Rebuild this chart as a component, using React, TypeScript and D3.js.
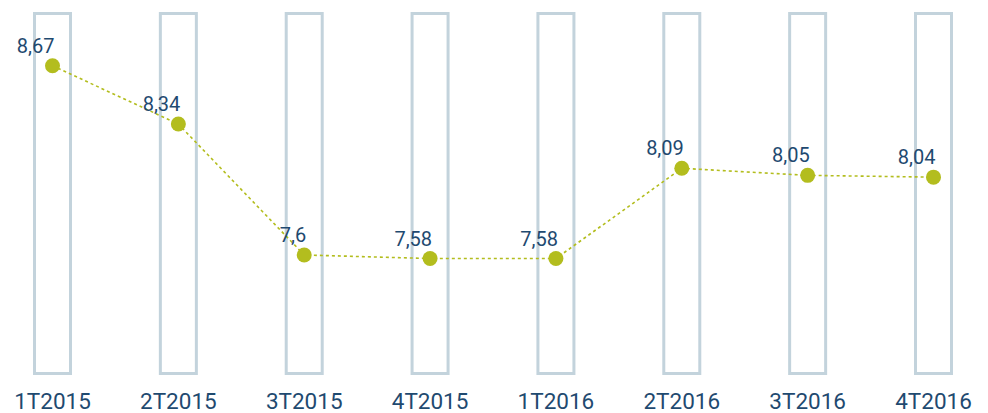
import React from "react";
import * as d3 from "d3";

const categories = ["1T2015", "2T2015", "3T2015", "4T2015", "1T2016", "2T2016", "3T2016", "4T2016"];
const values = [8.67, 8.34, 7.6, 7.58, 7.58, 8.09, 8.05, 8.04];
const valueLabels = ["8,67", "8,34", "7,6", "7,58", "7,58", "8,09", "8,05", "8,04"];
const yDomain = [6.93, 8.965];

const W = 988;
const H = 413;

export default function App() {
  const x = d3.scalePoint<string>().domain(categories).range([52.5, 933.5]);
  const y = d3.scaleLinear().domain(yDomain).range([373.5, 13.5]);
  const barW = 36;
  const pts = categories.map((c, i) => [x(c) as number, y(values[i])] as [number, number]);
  const line = d3.line()(pts) || "";
  const textColor = "#1f4a70";
  const green = "#b3bd1e";

  return (
    <svg width={W} height={H} style={{ position: "absolute", left: 0, top: 0 }} fontFamily="Roboto, sans-serif">
      <rect width={W} height={H} fill="#ffffff" />
      {categories.map((c) => (
        <rect
          key={"b" + c}
          x={(x(c) as number) - barW / 2}
          y={y(yDomain[1])}
          width={barW}
          height={y(yDomain[0]) - y(yDomain[1])}
          fill="none"
          stroke="#c3d3dc"
          strokeWidth={3}
        />
      ))}
      <path d={line} fill="none" stroke={green} strokeWidth={1.6} strokeDasharray="3,3" />
      {pts.map((p, i) => (
        <circle key={"c" + i} cx={p[0]} cy={p[1]} r={7.5} fill={green} />
      ))}
      {pts.map((p, i) => (
        <text
          key={"t" + i}
          x={p[0] + 2}
          y={p[1] - 13}
          textAnchor="end"
          fontSize={20}
          fill={textColor}
        >
          {valueLabels[i]}
        </text>
      ))}
      {categories.map((c) => (
        <text key={"a" + c} x={x(c) as number} y={409} textAnchor="middle" fontSize={22.5} fill={textColor}>
          {c}
        </text>
      ))}
    </svg>
  );
}
